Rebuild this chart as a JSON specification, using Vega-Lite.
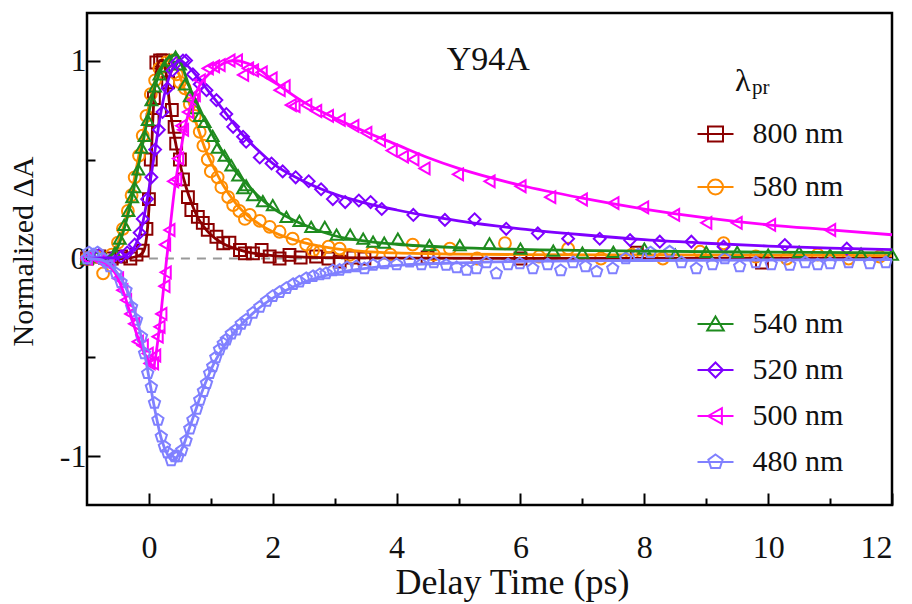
{
"$schema": "https://vega.github.io/schema/vega-lite/v6.json",
"width": 805, "height": 492,
"autosize": {"type": "none"},
"padding": {"left": 87, "top": 13, "right": 20, "bottom": 99},
"background": "white",
"config": {"view": {"stroke": "#000", "strokeWidth": 2.5}, "font": "Liberation Serif, DejaVu Serif, Times New Roman, serif"},
"datasets": {
"pts": [
{"series":"800 nm","t":-1,"v":0},{"series":"800 nm","t":-0.8,"v":0.01},{"series":"800 nm","t":-0.6,"v":0},{"series":"800 nm","t":-0.45,"v":0.01},{"series":"800 nm","t":-0.3,"v":0},{"series":"800 nm","t":-0.2,"v":0.02},{"series":"800 nm","t":-0.1,"v":0.04},{"series":"800 nm","t":-0.04,"v":0.15},{"series":"800 nm","t":0,"v":0.3},{"series":"800 nm","t":0.03,"v":0.5},{"series":"800 nm","t":0.06,"v":0.7},{"series":"800 nm","t":0.08,"v":0.81},{"series":"800 nm","t":0.12,"v":0.99},{"series":"800 nm","t":0.18,"v":1.0},{"series":"800 nm","t":0.23,"v":1.0},{"series":"800 nm","t":0.31,"v":0.89},{"series":"800 nm","t":0.37,"v":0.75},{"series":"800 nm","t":0.415,"v":0.665},{"series":"800 nm","t":0.44,"v":0.58},{"series":"800 nm","t":0.5,"v":0.5},{"series":"800 nm","t":0.55,"v":0.4},{"series":"800 nm","t":0.63,"v":0.31},{"series":"800 nm","t":0.685,"v":0.245},{"series":"800 nm","t":0.79,"v":0.21},{"series":"800 nm","t":0.87,"v":0.18},{"series":"800 nm","t":0.95,"v":0.145},{"series":"800 nm","t":1.09,"v":0.11},{"series":"800 nm","t":1.2,"v":0.077},{"series":"800 nm","t":1.3,"v":0.08},{"series":"800 nm","t":1.47,"v":0.043},{"series":"800 nm","t":1.55,"v":0.026},{"series":"800 nm","t":1.68,"v":0.026},{"series":"800 nm","t":1.82,"v":0.043},{"series":"800 nm","t":1.95,"v":0.01},{"series":"800 nm","t":2.11,"v":0.0},{"series":"800 nm","t":2.27,"v":0.018},{"series":"800 nm","t":2.45,"v":0.005},{"series":"800 nm","t":2.7,"v":0.01},{"series":"800 nm","t":2.9,"v":0.0},{"series":"800 nm","t":3.08,"v":-0.016},{"series":"800 nm","t":3.3,"v":0.005},{"series":"800 nm","t":3.48,"v":0.0},{"series":"800 nm","t":4.5,"v":0.005},{"series":"800 nm","t":6.0,"v":0.0},{"series":"800 nm","t":7.88,"v":0.03},{"series":"800 nm","t":9.9,"v":-0.02},
{"series":"580 nm","t":-1,"v":0},{"series":"580 nm","t":-0.85,"v":0.01},{"series":"580 nm","t":-0.74,"v":-0.075},{"series":"580 nm","t":-0.6,"v":0.02},{"series":"580 nm","t":-0.5,"v":0.08},{"series":"580 nm","t":-0.42,"v":0.15},{"series":"580 nm","t":-0.34,"v":0.24},{"series":"580 nm","t":-0.28,"v":0.32},{"series":"580 nm","t":-0.23,"v":0.41},{"series":"580 nm","t":-0.16,"v":0.52},{"series":"580 nm","t":-0.1,"v":0.62},{"series":"580 nm","t":-0.04,"v":0.72},{"series":"580 nm","t":0.03,"v":0.83},{"series":"580 nm","t":0.1,"v":0.9},{"series":"580 nm","t":0.17,"v":0.96},{"series":"580 nm","t":0.28,"v":0.99},{"series":"580 nm","t":0.37,"v":1.0},{"series":"580 nm","t":0.45,"v":0.93},{"series":"580 nm","t":0.5,"v":0.89},{"series":"580 nm","t":0.58,"v":0.86},{"series":"580 nm","t":0.66,"v":0.78},{"series":"580 nm","t":0.74,"v":0.72},{"series":"580 nm","t":0.82,"v":0.64},{"series":"580 nm","t":0.88,"v":0.57},{"series":"580 nm","t":0.95,"v":0.5},{"series":"580 nm","t":1.0,"v":0.44},{"series":"580 nm","t":1.11,"v":0.41},{"series":"580 nm","t":1.17,"v":0.36},{"series":"580 nm","t":1.28,"v":0.31},{"series":"580 nm","t":1.36,"v":0.27},{"series":"580 nm","t":1.46,"v":0.24},{"series":"580 nm","t":1.55,"v":0.2},{"series":"580 nm","t":1.63,"v":0.22},{"series":"580 nm","t":1.79,"v":0.19},{"series":"580 nm","t":1.95,"v":0.16},{"series":"580 nm","t":2.11,"v":0.135},{"series":"580 nm","t":2.32,"v":0.1},{"series":"580 nm","t":2.54,"v":0.07},{"series":"580 nm","t":2.65,"v":0.04},{"series":"580 nm","t":2.76,"v":0.034},{"series":"580 nm","t":2.9,"v":0.06},{"series":"580 nm","t":3.08,"v":0.05},{"series":"580 nm","t":3.24,"v":0.018},{"series":"580 nm","t":3.6,"v":0.03},{"series":"580 nm","t":3.9,"v":0.02},{"series":"580 nm","t":4.26,"v":0.07},{"series":"580 nm","t":4.6,"v":0.02},{"series":"580 nm","t":4.86,"v":0.05},{"series":"580 nm","t":5.3,"v":0.0},{"series":"580 nm","t":5.75,"v":0.077},{"series":"580 nm","t":6.3,"v":0.01},{"series":"580 nm","t":6.77,"v":0.05},{"series":"580 nm","t":7.3,"v":0.0},{"series":"580 nm","t":7.8,"v":0.02},{"series":"580 nm","t":8.3,"v":0.0},{"series":"580 nm","t":8.9,"v":0.034},{"series":"580 nm","t":9.28,"v":0.077},{"series":"580 nm","t":9.8,"v":0.01},{"series":"580 nm","t":10.3,"v":0.0},{"series":"580 nm","t":10.8,"v":0.02},{"series":"580 nm","t":11.3,"v":0.0},{"series":"580 nm","t":11.8,"v":0.01},
{"series":"540 nm","t":-1,"v":0},{"series":"540 nm","t":-0.85,"v":0.01},{"series":"540 nm","t":-0.7,"v":0},{"series":"540 nm","t":-0.55,"v":0.03},{"series":"540 nm","t":-0.47,"v":0.1},{"series":"540 nm","t":-0.4,"v":0.17},{"series":"540 nm","t":-0.33,"v":0.24},{"series":"540 nm","t":-0.27,"v":0.31},{"series":"540 nm","t":-0.23,"v":0.36},{"series":"540 nm","t":-0.17,"v":0.45},{"series":"540 nm","t":-0.12,"v":0.56},{"series":"540 nm","t":-0.07,"v":0.62},{"series":"540 nm","t":-0.02,"v":0.7},{"series":"540 nm","t":0.04,"v":0.8},{"series":"540 nm","t":0.1,"v":0.87},{"series":"540 nm","t":0.17,"v":0.93},{"series":"540 nm","t":0.25,"v":0.97},{"series":"540 nm","t":0.33,"v":1.0},{"series":"540 nm","t":0.43,"v":1.02},{"series":"540 nm","t":0.5,"v":0.98},{"series":"540 nm","t":0.58,"v":0.88},{"series":"540 nm","t":0.66,"v":0.82},{"series":"540 nm","t":0.74,"v":0.76},{"series":"540 nm","t":0.82,"v":0.72},{"series":"540 nm","t":0.9,"v":0.69},{"series":"540 nm","t":1.03,"v":0.62},{"series":"540 nm","t":1.11,"v":0.56},{"series":"540 nm","t":1.22,"v":0.52},{"series":"540 nm","t":1.33,"v":0.47},{"series":"540 nm","t":1.44,"v":0.42},{"series":"540 nm","t":1.52,"v":0.355},{"series":"540 nm","t":1.57,"v":0.37},{"series":"540 nm","t":1.68,"v":0.32},{"series":"540 nm","t":1.84,"v":0.29},{"series":"540 nm","t":2.0,"v":0.27},{"series":"540 nm","t":2.22,"v":0.21},{"series":"540 nm","t":2.43,"v":0.19},{"series":"540 nm","t":2.62,"v":0.16},{"series":"540 nm","t":2.84,"v":0.16},{"series":"540 nm","t":3.03,"v":0.12},{"series":"540 nm","t":3.25,"v":0.12},{"series":"540 nm","t":3.46,"v":0.1},{"series":"540 nm","t":3.62,"v":0.085},{"series":"540 nm","t":3.8,"v":0.08},{"series":"540 nm","t":4.02,"v":0.1},{"series":"540 nm","t":4.53,"v":0.068},{"series":"540 nm","t":5.02,"v":0.068},{"series":"540 nm","t":5.5,"v":0.077},{"series":"540 nm","t":6.0,"v":0.05},{"series":"540 nm","t":6.53,"v":0.04},{"series":"540 nm","t":7.0,"v":0.03},{"series":"540 nm","t":7.5,"v":0.034},{"series":"540 nm","t":8.0,"v":0.05},{"series":"540 nm","t":8.5,"v":0.02},{"series":"540 nm","t":9.0,"v":0.034},{"series":"540 nm","t":9.5,"v":0.034},{"series":"540 nm","t":10.0,"v":0.02},{"series":"540 nm","t":10.5,"v":0.034},{"series":"540 nm","t":11.0,"v":0.02},{"series":"540 nm","t":11.5,"v":0.025},{"series":"540 nm","t":12.0,"v":0.02},
{"series":"520 nm","t":-1,"v":0},{"series":"520 nm","t":-0.8,"v":0.02},{"series":"520 nm","t":-0.6,"v":0},{"series":"520 nm","t":-0.45,"v":0.01},{"series":"520 nm","t":-0.35,"v":0.03},{"series":"520 nm","t":-0.23,"v":0.07},{"series":"520 nm","t":-0.15,"v":0.13},{"series":"520 nm","t":-0.1,"v":0.2},{"series":"520 nm","t":-0.03,"v":0.3},{"series":"520 nm","t":0.04,"v":0.41},{"series":"520 nm","t":0.1,"v":0.55},{"series":"520 nm","t":0.16,"v":0.65},{"series":"520 nm","t":0.22,"v":0.74},{"series":"520 nm","t":0.3,"v":0.86},{"series":"520 nm","t":0.38,"v":0.95},{"series":"520 nm","t":0.45,"v":0.99},{"series":"520 nm","t":0.55,"v":1.0},{"series":"520 nm","t":0.6,"v":1.0},{"series":"520 nm","t":0.71,"v":0.93},{"series":"520 nm","t":0.82,"v":0.88},{"series":"520 nm","t":0.93,"v":0.85},{"series":"520 nm","t":1.09,"v":0.8},{"series":"520 nm","t":1.25,"v":0.73},{"series":"520 nm","t":1.36,"v":0.665},{"series":"520 nm","t":1.52,"v":0.615},{"series":"520 nm","t":1.57,"v":0.59},{"series":"520 nm","t":1.79,"v":0.51},{"series":"520 nm","t":1.98,"v":0.48},{"series":"520 nm","t":2.16,"v":0.44},{"series":"520 nm","t":2.37,"v":0.41},{"series":"520 nm","t":2.58,"v":0.39},{"series":"520 nm","t":2.78,"v":0.35},{"series":"520 nm","t":2.97,"v":0.3},{"series":"520 nm","t":3.17,"v":0.285},{"series":"520 nm","t":3.39,"v":0.293},{"series":"520 nm","t":3.58,"v":0.285},{"series":"520 nm","t":3.76,"v":0.25},{"series":"520 nm","t":4.27,"v":0.22},{"series":"520 nm","t":4.78,"v":0.195},{"series":"520 nm","t":5.26,"v":0.198},{"series":"520 nm","t":5.77,"v":0.15},{"series":"520 nm","t":6.28,"v":0.127},{"series":"520 nm","t":6.77,"v":0.1},{"series":"520 nm","t":7.28,"v":0.1},{"series":"520 nm","t":7.77,"v":0.093},{"series":"520 nm","t":8.25,"v":0.085},{"series":"520 nm","t":8.76,"v":0.085},{"series":"520 nm","t":9.28,"v":0.06},{"series":"520 nm","t":10.27,"v":0.068},{"series":"520 nm","t":11.27,"v":0.05},
{"series":"500 nm","t":-1,"v":0},{"series":"500 nm","t":-0.8,"v":-0.01},{"series":"500 nm","t":-0.65,"v":-0.03},{"series":"500 nm","t":-0.5,"v":-0.1},{"series":"500 nm","t":-0.43,"v":-0.16},{"series":"500 nm","t":-0.37,"v":-0.21},{"series":"500 nm","t":-0.3,"v":-0.28},{"series":"500 nm","t":-0.24,"v":-0.33},{"series":"500 nm","t":-0.18,"v":-0.42},{"series":"500 nm","t":-0.1,"v":-0.44},{"series":"500 nm","t":-0.02,"v":-0.48},{"series":"500 nm","t":0.01,"v":-0.53},{"series":"500 nm","t":0.065,"v":-0.53},{"series":"500 nm","t":0.1,"v":-0.49},{"series":"500 nm","t":0.14,"v":-0.395},{"series":"500 nm","t":0.17,"v":-0.345},{"series":"500 nm","t":0.2,"v":-0.28},{"series":"500 nm","t":0.25,"v":-0.14},{"series":"500 nm","t":0.27,"v":-0.07},{"series":"500 nm","t":0.26,"v":0.07},{"series":"500 nm","t":0.33,"v":0.144},{"series":"500 nm","t":0.39,"v":0.39},{"series":"500 nm","t":0.44,"v":0.4},{"series":"500 nm","t":0.47,"v":0.505},{"series":"500 nm","t":0.52,"v":0.67},{"series":"500 nm","t":0.55,"v":0.65},{"series":"500 nm","t":0.63,"v":0.74},{"series":"500 nm","t":0.71,"v":0.8},{"series":"500 nm","t":0.74,"v":0.825},{"series":"500 nm","t":0.82,"v":0.9},{"series":"500 nm","t":0.95,"v":0.96},{"series":"500 nm","t":1.05,"v":0.97},{"series":"500 nm","t":1.14,"v":0.977},{"series":"500 nm","t":1.3,"v":1.0},{"series":"500 nm","t":1.42,"v":1.0},{"series":"500 nm","t":1.52,"v":0.927},{"series":"500 nm","t":1.6,"v":0.96},{"series":"500 nm","t":1.68,"v":0.95},{"series":"500 nm","t":1.82,"v":0.94},{"series":"500 nm","t":1.98,"v":0.91},{"series":"500 nm","t":2.11,"v":0.85},{"series":"500 nm","t":2.19,"v":0.87},{"series":"500 nm","t":2.29,"v":0.775},{"series":"500 nm","t":2.35,"v":0.77},{"series":"500 nm","t":2.54,"v":0.775},{"series":"500 nm","t":2.7,"v":0.745},{"series":"500 nm","t":2.89,"v":0.72},{"series":"500 nm","t":3.08,"v":0.7},{"series":"500 nm","t":3.3,"v":0.67},{"series":"500 nm","t":3.51,"v":0.635},{"series":"500 nm","t":3.73,"v":0.595},{"series":"500 nm","t":3.92,"v":0.545},{"series":"500 nm","t":4.1,"v":0.515},{"series":"500 nm","t":4.27,"v":0.5},{"series":"500 nm","t":4.45,"v":0.455},{"series":"500 nm","t":4.99,"v":0.425},{"series":"500 nm","t":5.5,"v":0.39},{"series":"500 nm","t":6.0,"v":0.365},{"series":"500 nm","t":6.48,"v":0.31},{"series":"500 nm","t":6.99,"v":0.298},{"series":"500 nm","t":7.5,"v":0.28},{"series":"500 nm","t":7.98,"v":0.258},{"series":"500 nm","t":8.48,"v":0.22},{"series":"500 nm","t":9.0,"v":0.18},{"series":"500 nm","t":9.49,"v":0.18},{"series":"500 nm","t":10.03,"v":0.17},{"series":"500 nm","t":11.0,"v":0.144},
{"series":"480 nm","t":-1,"v":0},{"series":"480 nm","t":-0.97,"v":0.03},{"series":"480 nm","t":-0.9,"v":0.02},{"series":"480 nm","t":-0.83,"v":0.03},{"series":"480 nm","t":-0.75,"v":0},{"series":"480 nm","t":-0.68,"v":-0.02},{"series":"480 nm","t":-0.63,"v":-0.04},{"series":"480 nm","t":-0.53,"v":-0.075},{"series":"480 nm","t":-0.45,"v":-0.12},{"series":"480 nm","t":-0.37,"v":-0.16},{"series":"480 nm","t":-0.28,"v":-0.245},{"series":"480 nm","t":-0.2,"v":-0.31},{"series":"480 nm","t":-0.12,"v":-0.395},{"series":"480 nm","t":-0.07,"v":-0.48},{"series":"480 nm","t":-0.02,"v":-0.58},{"series":"480 nm","t":0.04,"v":-0.65},{"series":"480 nm","t":0.09,"v":-0.73},{"series":"480 nm","t":0.145,"v":-0.815},{"series":"480 nm","t":0.2,"v":-0.9},{"series":"480 nm","t":0.25,"v":-0.95},{"series":"480 nm","t":0.3,"v":-0.98},{"series":"480 nm","t":0.36,"v":-1.02},{"series":"480 nm","t":0.42,"v":-1.0},{"series":"480 nm","t":0.47,"v":-1.0},{"series":"480 nm","t":0.53,"v":-0.97},{"series":"480 nm","t":0.6,"v":-0.92},{"series":"480 nm","t":0.66,"v":-0.86},{"series":"480 nm","t":0.71,"v":-0.815},{"series":"480 nm","t":0.77,"v":-0.76},{"series":"480 nm","t":0.82,"v":-0.715},{"series":"480 nm","t":0.88,"v":-0.67},{"series":"480 nm","t":0.93,"v":-0.63},{"series":"480 nm","t":0.98,"v":-0.58},{"series":"480 nm","t":1.03,"v":-0.545},{"series":"480 nm","t":1.08,"v":-0.5},{"series":"480 nm","t":1.14,"v":-0.46},{"series":"480 nm","t":1.2,"v":-0.43},{"series":"480 nm","t":1.25,"v":-0.41},{"series":"480 nm","t":1.33,"v":-0.38},{"series":"480 nm","t":1.41,"v":-0.36},{"series":"480 nm","t":1.49,"v":-0.33},{"series":"480 nm","t":1.57,"v":-0.31},{"series":"480 nm","t":1.68,"v":-0.275},{"series":"480 nm","t":1.79,"v":-0.245},{"series":"480 nm","t":1.9,"v":-0.215},{"series":"480 nm","t":2.0,"v":-0.19},{"series":"480 nm","t":2.11,"v":-0.17},{"series":"480 nm","t":2.22,"v":-0.15},{"series":"480 nm","t":2.33,"v":-0.13},{"series":"480 nm","t":2.43,"v":-0.117},{"series":"480 nm","t":2.54,"v":-0.1},{"series":"480 nm","t":2.65,"v":-0.09},{"series":"480 nm","t":2.76,"v":-0.08},{"series":"480 nm","t":2.86,"v":-0.075},{"series":"480 nm","t":2.97,"v":-0.06},{"series":"480 nm","t":3.08,"v":-0.058},{"series":"480 nm","t":3.2,"v":-0.045},{"series":"480 nm","t":3.35,"v":-0.04},{"series":"480 nm","t":3.48,"v":-0.05},{"series":"480 nm","t":3.62,"v":-0.033},{"series":"480 nm","t":3.8,"v":-0.025},{"series":"480 nm","t":4.0,"v":-0.03},{"series":"480 nm","t":4.21,"v":-0.016},{"series":"480 nm","t":4.4,"v":-0.03},{"series":"480 nm","t":4.6,"v":-0.02},{"series":"480 nm","t":4.8,"v":-0.033},{"series":"480 nm","t":4.97,"v":-0.045},{"series":"480 nm","t":5.13,"v":-0.058},{"series":"480 nm","t":5.29,"v":-0.05},{"series":"480 nm","t":5.45,"v":-0.02},{"series":"480 nm","t":5.61,"v":-0.075},{"series":"480 nm","t":5.8,"v":-0.03},{"series":"480 nm","t":5.99,"v":-0.025},{"series":"480 nm","t":6.2,"v":-0.05},{"series":"480 nm","t":6.44,"v":-0.03},{"series":"480 nm","t":6.65,"v":-0.06},{"series":"480 nm","t":6.85,"v":-0.02},{"series":"480 nm","t":7.05,"v":-0.04},{"series":"480 nm","t":7.23,"v":-0.066},{"series":"480 nm","t":7.49,"v":-0.05},{"series":"480 nm","t":7.7,"v":0.0},{"series":"480 nm","t":7.9,"v":0.02},{"series":"480 nm","t":8.1,"v":0.03},{"series":"480 nm","t":8.41,"v":0.034},{"series":"480 nm","t":8.6,"v":-0.02},{"series":"480 nm","t":8.84,"v":-0.05},{"series":"480 nm","t":9.1,"v":-0.03},{"series":"480 nm","t":9.3,"v":0.0},{"series":"480 nm","t":9.54,"v":-0.04},{"series":"480 nm","t":9.8,"v":-0.02},{"series":"480 nm","t":10.05,"v":-0.03},{"series":"480 nm","t":10.35,"v":-0.033},{"series":"480 nm","t":10.6,"v":-0.02},{"series":"480 nm","t":10.8,"v":-0.03},{"series":"480 nm","t":11.0,"v":-0.025},{"series":"480 nm","t":11.3,"v":-0.02},{"series":"480 nm","t":11.64,"v":-0.025},{"series":"480 nm","t":11.9,"v":-0.02}
],
"fit": [
{"series":"800 nm","t":-1,"v":0},{"series":"800 nm","t":-0.4,"v":0},{"series":"800 nm","t":-0.2,"v":0.01},{"series":"800 nm","t":-0.1,"v":0.03},{"series":"800 nm","t":-0.05,"v":0.08},{"series":"800 nm","t":0,"v":0.25},{"series":"800 nm","t":0.03,"v":0.45},{"series":"800 nm","t":0.06,"v":0.68},{"series":"800 nm","t":0.09,"v":0.85},{"series":"800 nm","t":0.13,"v":0.96},{"series":"800 nm","t":0.18,"v":1.0},{"series":"800 nm","t":0.23,"v":1.0},{"series":"800 nm","t":0.28,"v":0.93},{"series":"800 nm","t":0.33,"v":0.79},{"series":"800 nm","t":0.38,"v":0.67},{"series":"800 nm","t":0.44,"v":0.57},{"series":"800 nm","t":0.5,"v":0.48},{"series":"800 nm","t":0.6,"v":0.36},{"series":"800 nm","t":0.7,"v":0.27},{"series":"800 nm","t":0.8,"v":0.2},{"series":"800 nm","t":0.9,"v":0.155},{"series":"800 nm","t":1.0,"v":0.12},{"series":"800 nm","t":1.2,"v":0.075},{"series":"800 nm","t":1.4,"v":0.05},{"series":"800 nm","t":1.6,"v":0.032},{"series":"800 nm","t":1.8,"v":0.022},{"series":"800 nm","t":2.0,"v":0.015},{"series":"800 nm","t":2.5,"v":0.007},{"series":"800 nm","t":3,"v":0.004},{"series":"800 nm","t":4,"v":0.002},{"series":"800 nm","t":6,"v":0.001},{"series":"800 nm","t":12,"v":0},
{"series":"580 nm","t":-1,"v":0},{"series":"580 nm","t":-0.7,"v":0},{"series":"580 nm","t":-0.6,"v":0.02},{"series":"580 nm","t":-0.5,"v":0.08},{"series":"580 nm","t":-0.4,"v":0.17},{"series":"580 nm","t":-0.3,"v":0.3},{"series":"580 nm","t":-0.2,"v":0.46},{"series":"580 nm","t":-0.1,"v":0.62},{"series":"580 nm","t":0,"v":0.77},{"series":"580 nm","t":0.1,"v":0.9},{"series":"580 nm","t":0.2,"v":0.97},{"series":"580 nm","t":0.3,"v":1.0},{"series":"580 nm","t":0.4,"v":0.98},{"series":"580 nm","t":0.5,"v":0.92},{"series":"580 nm","t":0.6,"v":0.83},{"series":"580 nm","t":0.7,"v":0.74},{"series":"580 nm","t":0.8,"v":0.65},{"series":"580 nm","t":0.9,"v":0.56},{"series":"580 nm","t":1.0,"v":0.49},{"series":"580 nm","t":1.2,"v":0.37},{"series":"580 nm","t":1.4,"v":0.28},{"series":"580 nm","t":1.6,"v":0.215},{"series":"580 nm","t":1.8,"v":0.17},{"series":"580 nm","t":2.0,"v":0.135},{"series":"580 nm","t":2.5,"v":0.08},{"series":"580 nm","t":3.0,"v":0.05},{"series":"580 nm","t":3.5,"v":0.035},{"series":"580 nm","t":4,"v":0.028},{"series":"580 nm","t":5,"v":0.022},{"series":"580 nm","t":6,"v":0.02},{"series":"580 nm","t":8,"v":0.018},{"series":"580 nm","t":12,"v":0.015},
{"series":"540 nm","t":-1,"v":0},{"series":"540 nm","t":-0.7,"v":0},{"series":"540 nm","t":-0.6,"v":0.02},{"series":"540 nm","t":-0.5,"v":0.06},{"series":"540 nm","t":-0.4,"v":0.15},{"series":"540 nm","t":-0.3,"v":0.27},{"series":"540 nm","t":-0.2,"v":0.42},{"series":"540 nm","t":-0.1,"v":0.58},{"series":"540 nm","t":0,"v":0.74},{"series":"540 nm","t":0.1,"v":0.87},{"series":"540 nm","t":0.2,"v":0.96},{"series":"540 nm","t":0.3,"v":1.01},{"series":"540 nm","t":0.45,"v":1.03},{"series":"540 nm","t":0.55,"v":0.96},{"series":"540 nm","t":0.65,"v":0.87},{"series":"540 nm","t":0.8,"v":0.77},{"series":"540 nm","t":1.0,"v":0.64},{"series":"540 nm","t":1.2,"v":0.53},{"series":"540 nm","t":1.4,"v":0.44},{"series":"540 nm","t":1.6,"v":0.37},{"series":"540 nm","t":1.8,"v":0.305},{"series":"540 nm","t":2.0,"v":0.255},{"series":"540 nm","t":2.5,"v":0.17},{"series":"540 nm","t":3.0,"v":0.115},{"series":"540 nm","t":3.5,"v":0.088},{"series":"540 nm","t":4.0,"v":0.072},{"series":"540 nm","t":5,"v":0.055},{"series":"540 nm","t":6,"v":0.046},{"series":"540 nm","t":8,"v":0.037},{"series":"540 nm","t":10,"v":0.032},{"series":"540 nm","t":12,"v":0.028},
{"series":"520 nm","t":-1,"v":0},{"series":"520 nm","t":-0.5,"v":0.005},{"series":"520 nm","t":-0.35,"v":0.02},{"series":"520 nm","t":-0.2,"v":0.08},{"series":"520 nm","t":-0.1,"v":0.18},{"series":"520 nm","t":0,"v":0.35},{"series":"520 nm","t":0.1,"v":0.55},{"series":"520 nm","t":0.2,"v":0.75},{"series":"520 nm","t":0.3,"v":0.89},{"series":"520 nm","t":0.4,"v":0.97},{"series":"520 nm","t":0.5,"v":1.0},{"series":"520 nm","t":0.6,"v":0.98},{"series":"520 nm","t":0.8,"v":0.91},{"series":"520 nm","t":1.0,"v":0.83},{"series":"520 nm","t":1.25,"v":0.73},{"series":"520 nm","t":1.5,"v":0.63},{"series":"520 nm","t":1.75,"v":0.55},{"series":"520 nm","t":2.0,"v":0.48},{"series":"520 nm","t":2.5,"v":0.39},{"series":"520 nm","t":3.0,"v":0.325},{"series":"520 nm","t":3.5,"v":0.28},{"series":"520 nm","t":4.0,"v":0.245},{"series":"520 nm","t":4.5,"v":0.215},{"series":"520 nm","t":5,"v":0.19},{"series":"520 nm","t":6,"v":0.15},{"series":"520 nm","t":7,"v":0.12},{"series":"520 nm","t":8,"v":0.095},{"series":"520 nm","t":9,"v":0.077},{"series":"520 nm","t":10,"v":0.063},{"series":"520 nm","t":11,"v":0.052},{"series":"520 nm","t":12,"v":0.045},
{"series":"500 nm","t":-1,"v":0},{"series":"500 nm","t":-0.8,"v":-0.01},{"series":"500 nm","t":-0.6,"v":-0.05},{"series":"500 nm","t":-0.5,"v":-0.1},{"series":"500 nm","t":-0.4,"v":-0.18},{"series":"500 nm","t":-0.3,"v":-0.28},{"series":"500 nm","t":-0.2,"v":-0.38},{"series":"500 nm","t":-0.1,"v":-0.46},{"series":"500 nm","t":0,"v":-0.52},{"series":"500 nm","t":0.07,"v":-0.54},{"series":"500 nm","t":0.15,"v":-0.4},{"series":"500 nm","t":0.22,"v":-0.2},{"series":"500 nm","t":0.28,"v":-0.02},{"series":"500 nm","t":0.33,"v":0.12},{"series":"500 nm","t":0.41,"v":0.34},{"series":"500 nm","t":0.5,"v":0.52},{"series":"500 nm","t":0.58,"v":0.66},{"series":"500 nm","t":0.68,"v":0.775},{"series":"500 nm","t":0.82,"v":0.876},{"series":"500 nm","t":1.0,"v":0.94},{"series":"500 nm","t":1.2,"v":0.985},{"series":"500 nm","t":1.38,"v":1.0},{"series":"500 nm","t":1.6,"v":0.985},{"series":"500 nm","t":1.8,"v":0.95},{"series":"500 nm","t":2.0,"v":0.9},{"series":"500 nm","t":2.5,"v":0.79},{"series":"500 nm","t":3.0,"v":0.71},{"series":"500 nm","t":3.5,"v":0.64},{"series":"500 nm","t":4.0,"v":0.575},{"series":"500 nm","t":4.5,"v":0.51},{"series":"500 nm","t":5,"v":0.455},{"series":"500 nm","t":6,"v":0.37},{"series":"500 nm","t":7,"v":0.305},{"series":"500 nm","t":8,"v":0.25},{"series":"500 nm","t":9,"v":0.205},{"series":"500 nm","t":10,"v":0.17},{"series":"500 nm","t":11,"v":0.145},{"series":"500 nm","t":12,"v":0.12},
{"series":"480 nm","t":-1,"v":0},{"series":"480 nm","t":-0.8,"v":-0.005},{"series":"480 nm","t":-0.6,"v":-0.04},{"series":"480 nm","t":-0.4,"v":-0.13},{"series":"480 nm","t":-0.3,"v":-0.2},{"series":"480 nm","t":-0.2,"v":-0.3},{"series":"480 nm","t":-0.1,"v":-0.43},{"series":"480 nm","t":0,"v":-0.6},{"series":"480 nm","t":0.1,"v":-0.77},{"series":"480 nm","t":0.2,"v":-0.91},{"series":"480 nm","t":0.3,"v":-0.99},{"series":"480 nm","t":0.38,"v":-1.02},{"series":"480 nm","t":0.46,"v":-1.0},{"series":"480 nm","t":0.55,"v":-0.95},{"series":"480 nm","t":0.65,"v":-0.86},{"series":"480 nm","t":0.75,"v":-0.77},{"series":"480 nm","t":0.85,"v":-0.68},{"series":"480 nm","t":0.95,"v":-0.6},{"series":"480 nm","t":1.05,"v":-0.53},{"series":"480 nm","t":1.2,"v":-0.45},{"series":"480 nm","t":1.4,"v":-0.365},{"series":"480 nm","t":1.6,"v":-0.3},{"series":"480 nm","t":1.8,"v":-0.245},{"series":"480 nm","t":2.0,"v":-0.2},{"series":"480 nm","t":2.25,"v":-0.155},{"series":"480 nm","t":2.5,"v":-0.12},{"series":"480 nm","t":3,"v":-0.075},{"series":"480 nm","t":3.5,"v":-0.05},{"series":"480 nm","t":4,"v":-0.035},{"series":"480 nm","t":5,"v":-0.022},{"series":"480 nm","t":6,"v":-0.015},{"series":"480 nm","t":8,"v":-0.01},{"series":"480 nm","t":12,"v":-0.005}
],
"labels": [{"label": "Y94A", "part": "title"}, {"label": "λ", "part": "main"}, {"label": "pr", "part": "sub"}, {"label": "zero", "part": "rule"}]
},
"layer": [
{"data": {"name": "labels"}, "transform": [{"filter": "datum.part == 'rule'"}],
 "mark": {"type": "rule", "color": "#999", "strokeWidth": 2, "strokeDash": [9, 7]},
 "encoding": {"x": {"datum": 0, "type": "quantitative"}, "x2": {"datum": 12}, "y": {"datum": 0, "type": "quantitative"}}},
{"encoding": {
"x": {"field": "t", "type": "quantitative",
"scale": {"domain": [-1, 12], "nice": false, "zero": false},
"axis": {"values": [0,1,2,3,4,5,6,7,8,9,10,11,12], "labelExpr": "datum.value % 2 == 0 ? '' + datum.value : ''", "domain": false, "grid": false,
"tickSize": {"condition": {"test": "datum.value % 2 == 0", "value": -12}, "value": -7}, "tickWidth": 2, "tickColor": "#000",
"labelFont": "Liberation Serif, DejaVu Serif, Times New Roman, serif", "labelFontSize": 32, "labelColor": "#111", "labelPadding": 39,
"title": "Delay Time (ps)", "titleFont": "Liberation Serif, DejaVu Serif, Times New Roman, serif", "titleFontSize": 36, "titleFontWeight": "normal", "titleColor": "#111", "titleX": 425, "titleY": 88, "titleBaseline": "alphabetic"}},
"y": {"field": "v", "type": "quantitative",
"scale": {"domain": [-1.245, 1.24], "nice": false, "zero": false},
"axis": {"values": [-1,-0.5,0,0.5,1], "labelExpr": "datum.value == 1 ? '1' : datum.value == 0 ? '0' : datum.value == -1 ? '-1' : ''", "domain": false, "grid": false,
"tickSize": {"condition": {"test": "datum.value == 0.5 || datum.value == -0.5", "value": -8}, "value": -13}, "tickWidth": 2, "tickColor": "#000",
"labelFont": "Liberation Serif, DejaVu Serif, Times New Roman, serif", "labelFontSize": 32, "labelColor": "#111", "labelPadding": 14,
"title": "Normalized ΔA", "titleFont": "Liberation Serif, DejaVu Serif, Times New Roman, serif", "titleFontSize": 30, "titleFontWeight": "normal", "titleColor": "#111", "titleAngle": 270, "titleX": -55, "titleY": 238, "titleBaseline": "alphabetic"}}
},
"layer": [
{"data": {"name": "pts"}, "transform": [{"filter": "datum.series == '800 nm' || datum.series == '580 nm'"}],
 "mark": {"type": "point", "filled": false, "size": 140, "strokeWidth": 2, "opacity": 1},
 "encoding": {
  "color": {"field": "series", "type": "nominal", "scale": {"domain": ["800 nm","580 nm"], "range": ["#8B0000","#FF8C00"]}, "legend": null},
  "shape": {"field": "series", "type": "nominal", "scale": {"domain": ["800 nm","580 nm"], "range": ["square","circle"]}, "legend": null}}},
{"data": {"name": "fit"}, "transform": [{"filter": "datum.series == '800 nm' || datum.series == '580 nm'"}],
 "mark": {"type": "line", "strokeWidth": 2.8, "interpolate": "monotone"},
 "encoding": {"color": {"field": "series", "type": "nominal", "scale": {"domain": ["800 nm","580 nm"], "range": ["#8B0000","#FF8C00"]}, "legend": null}}},
{"data": {"name": "pts"}, "transform": [{"filter": "datum.series != '800 nm' && datum.series != '580 nm'"}],
 "mark": {"type": "point", "filled": false, "size": 140, "strokeWidth": 2, "opacity": 1},
 "encoding": {
  "color": {"field": "series", "type": "nominal", "scale": {"domain": ["540 nm","520 nm","500 nm","480 nm"], "range": ["#1E8B1E","#7F00FF","#FF00FF","#8080FF"]}, "legend": null},
  "shape": {"field": "series", "type": "nominal", "scale": {"domain": ["540 nm","520 nm","500 nm","480 nm"], "range": ["triangle-up","diamond","triangle-left","M0,-1L0.951,-0.309L0.588,0.809L-0.588,0.809L-0.951,-0.309Z"]}, "legend": null}}},
{"data": {"name": "fit"}, "transform": [{"filter": "datum.series != '800 nm' && datum.series != '580 nm'"}],
 "mark": {"type": "line", "strokeWidth": 2.8, "interpolate": "monotone"},
 "encoding": {"color": {"field": "series", "type": "nominal", "scale": {"domain": ["540 nm","520 nm","500 nm","480 nm"], "range": ["#1E8B1E","#7F00FF","#FF00FF","#8080FF"]}, "legend": null}}},
{"data": {"name": "pts"}, "transform": [{"filter": "false"}],
 "mark": {"type": "point", "filled": false},
 "encoding": {
  "color": {"field": "series", "type": "nominal", "scale": {"domain": ["800 nm","580 nm"], "range": ["#8B0000","#FF8C00"]},
   "legend": {"orient": "none", "legendX": 613.5, "legendY": 106, "title": null, "padding": 0, "symbolSize": 225, "symbolStrokeWidth": 2, "symbolOpacity": 1, "labelFont": "Liberation Serif, DejaVu Serif, Times New Roman, serif", "labelFontSize": 30, "labelColor": "#111", "labelOffset": 22, "rowPadding": 23}},
  "shape": {"field": "series", "type": "nominal", "scale": {"domain": ["800 nm","580 nm"], "range": ["M-2.4,0H2.4M-1,-1H1V1H-1Z","M-2.4,0H2.4M1,0A1,1,0,1,1,-1,0A1,1,0,1,1,1,0Z"]},
   "legend": {"orient": "none", "legendX": 613.5, "legendY": 106, "title": null, "padding": 0, "symbolSize": 225, "symbolStrokeWidth": 2, "symbolOpacity": 1, "labelFont": "Liberation Serif, DejaVu Serif, Times New Roman, serif", "labelFontSize": 30, "labelColor": "#111", "labelOffset": 22, "rowPadding": 23}}}},
{"data": {"name": "pts"}, "transform": [{"filter": "false"}],
 "mark": {"type": "point", "filled": false},
 "encoding": {
  "color": {"field": "series", "type": "nominal", "scale": {"domain": ["540 nm","520 nm","500 nm","480 nm"], "range": ["#1E8B1E","#7F00FF","#FF00FF","#8080FF"]},
   "legend": {"orient": "none", "legendX": 613.5, "legendY": 296, "title": null, "padding": 0, "symbolSize": 225, "symbolStrokeWidth": 2, "symbolOpacity": 1, "labelFont": "Liberation Serif, DejaVu Serif, Times New Roman, serif", "labelFontSize": 30, "labelColor": "#111", "labelOffset": 22, "rowPadding": 16}},
  "shape": {"field": "series", "type": "nominal", "scale": {"domain": ["540 nm","520 nm","500 nm","480 nm"], "range": ["M-2.4,0H2.4M0,-1L1.1,0.85L-1.1,0.85Z","M-2.4,0H2.4M0,-1L1,0L0,1L-1,0Z","M-2.4,0H2.4M-1,0L0.85,-1.05L0.85,1.05Z","M-2.4,0H2.4M0,-1L0.951,-0.309L0.588,0.809L-0.588,0.809L-0.951,-0.309Z"]},
   "legend": {"orient": "none", "legendX": 613.5, "legendY": 296, "title": null, "padding": 0, "symbolSize": 225, "symbolStrokeWidth": 2, "symbolOpacity": 1, "labelFont": "Liberation Serif, DejaVu Serif, Times New Roman, serif", "labelFontSize": 30, "labelColor": "#111", "labelOffset": 22, "rowPadding": 16}}}}
],
"resolve": {"scale": {"color": "independent", "shape": "independent"}}
},
{"data": {"name": "labels"}, "transform": [{"filter": "datum.part == 'title'"}],
 "mark": {"type": "text", "font": "Liberation Serif, DejaVu Serif, Times New Roman, serif", "fontSize": 34, "align": "center", "baseline": "alphabetic", "color": "#111"},
 "encoding": {"x": {"datum": 5.48, "type": "quantitative"}, "y": {"datum": 0.952, "type": "quantitative"}, "text": {"field": "label"}}},
{"data": {"name": "labels"}, "transform": [{"filter": "datum.part == 'main'"}],
 "mark": {"type": "text", "font": "Liberation Serif, DejaVu Serif, Times New Roman, serif", "fontSize": 32, "align": "center", "baseline": "alphabetic", "color": "#111"},
 "encoding": {"x": {"datum": 9.59, "type": "quantitative"}, "y": {"datum": 0.846, "type": "quantitative"}, "text": {"field": "label"}}},
{"data": {"name": "labels"}, "transform": [{"filter": "datum.part == 'sub'"}],
 "mark": {"type": "text", "font": "Liberation Serif, DejaVu Serif, Times New Roman, serif", "fontSize": 21, "align": "left", "baseline": "alphabetic", "color": "#111"},
 "encoding": {"x": {"datum": 9.74, "type": "quantitative"}, "y": {"datum": 0.83, "type": "quantitative"}, "text": {"field": "label"}}}
],
"resolve": {"scale": {"color": "independent", "shape": "independent"}}
}
